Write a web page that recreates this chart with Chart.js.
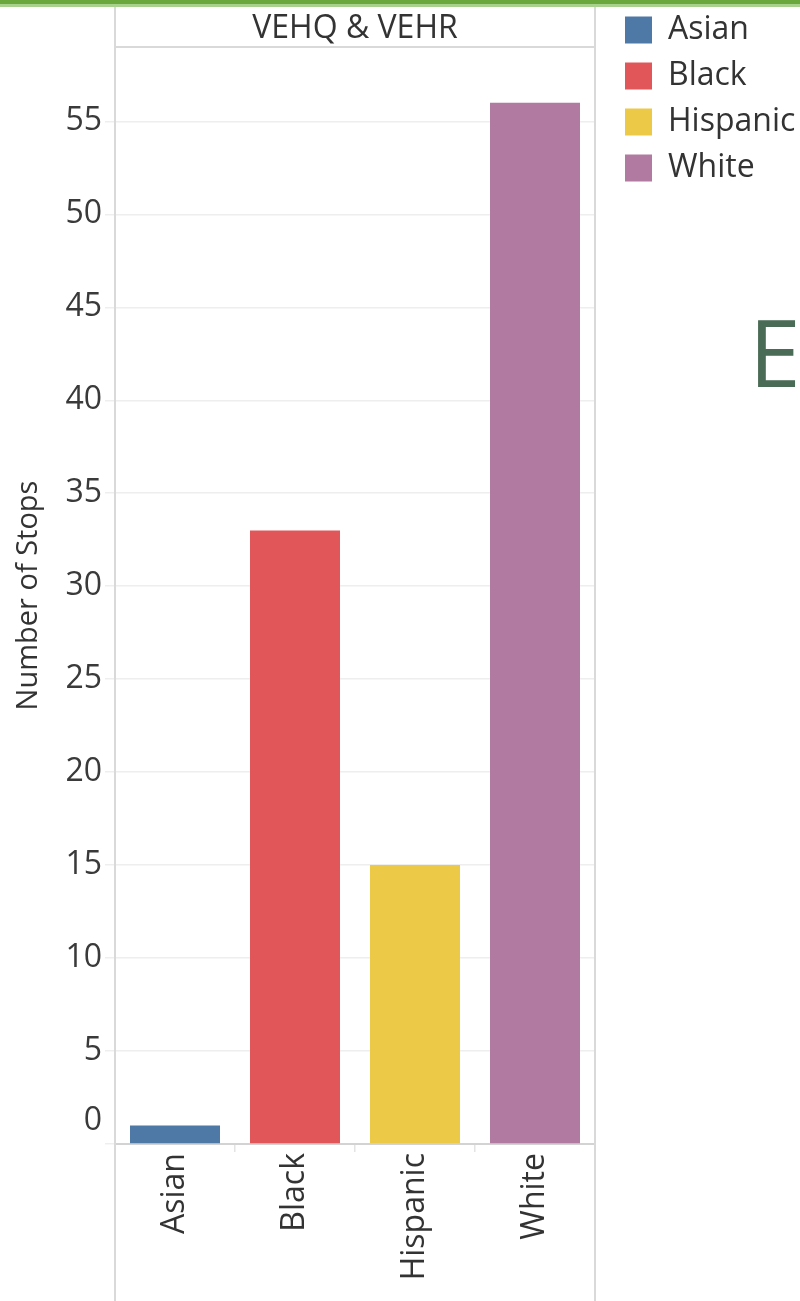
<!DOCTYPE html>
<html>
<head>
<meta charset="utf-8">
<script src="https://cdn.jsdelivr.net/npm/chart.js@4.4.1/dist/chart.umd.min.js"></script>
<style>
  html, body { margin: 0; padding: 0; background: #fff; }
  #wrap { position: relative; width: 800px; height: 1301px; overflow: hidden; }
  #chart { position: absolute; left: 0; top: 0; }
  .topline1 { position: absolute; left: 0; top: 0; width: 800px; height: 4px; background: #6aa83e; }
  .topline2 { position: absolute; left: 0; top: 4px; width: 800px; height: 3px; background: #a9d18e; }
  #bigE { position: absolute; left: 749px; top: 305px; font: 93px/1 "Open Sans"; color: #4a6b56; }
</style>
</head>
<body>
<div id="wrap">
  <canvas id="chart" width="800" height="1301"></canvas>
  <div class="topline1"></div>
  <div class="topline2"></div>
  <div id="bigE">E</div>
</div>
<script>
// data
const panelTitle = 'VEHQ & VEHR';
const categories = ['Asian', 'Black', 'Hispanic', 'White'];
const stops = [1, 33, 15, 56];
const colors = ['#4e79a7', '#e15759', '#edc948', '#b07aa1'];
const yTicks = [0, 5, 10, 15, 20, 25, 30, 35, 40, 45, 50, 55];

const FONT = '"Open Sans", "Noto Sans", sans-serif';
const legendFontSize = 32;
const legendPad = 14;
const legendBox = 27;

// legend width is padding + box + half font + widest text + 10 (chart.js fit)
const measure = document.createElement('canvas').getContext('2d');
measure.font = legendFontSize + 'px ' + FONT;
const widest = Math.max(...categories.map(c => measure.measureText(c).width));
const legendWidth = legendPad + legendBox + legendFontSize / 2 + widest + 10;
const legendLeft = 611;
const gapRight = 16;

// panel borders like the tableau pane
const panelLines = {
    id: 'panelLines',
    afterDraw(chart) {
        const { ctx, chartArea } = chart;
        ctx.save();
        ctx.strokeStyle = '#d9d9d9';
        ctx.lineWidth = 2;
        ctx.beginPath();
        ctx.moveTo(chartArea.left, 7);
        ctx.lineTo(chartArea.left, chart.height);
        ctx.moveTo(chartArea.right, 7);
        ctx.lineTo(chartArea.right, chart.height);
        ctx.moveTo(chartArea.left, chartArea.top);
        ctx.lineTo(chartArea.right, chartArea.top);
        ctx.stroke();
        ctx.restore();
    }
};

const datasets = categories.map((c, i) => ({
    label: c,
    data: categories.map((_, j) => (j === i ? stops[i] : null)),
    backgroundColor: colors[i],
    borderWidth: 0,
    barPercentage: 0.75,
    categoryPercentage: 1,
    grouped: false
}));

new Chart(document.getElementById('chart'), {
    type: 'bar',
    data: { labels: categories, datasets: datasets },
    options: {
        responsive: false,
        animation: false,
        layout: { padding: { top: 0, left: 0, bottom: 0, right: 800 - legendLeft - legendWidth } },
        plugins: {
            tooltip: { enabled: false },
            title: {
                display: true,
                text: panelTitle,
                fullSize: false,
                color: '#333',
                font: { family: FONT, size: 32, weight: 'normal', lineHeight: 1.1 },
                padding: { top: 11.4, bottom: 0.4 }
            },
            legend: {
                position: 'right',
                align: 'start',
                maxWidth: 400,
                labels: {
                    boxWidth: legendBox,
                    boxHeight: legendBox,
                    padding: legendPad,
                    color: '#333',
                    font: { family: FONT, size: legendFontSize }
                }
            }
        },
        scales: {
            x: {
                type: 'category',
                afterFit: s => { s.height = 157; },
                grid: { offset: true, drawOnChartArea: false, tickLength: 8, color: '#e3e3e3', lineWidth: 1.5 },
                border: { color: '#d3d3d3', width: 2 },
                ticks: {
                    minRotation: 90,
                    maxRotation: 90,
                    autoSkip: false,
                    padding: 1,
                    color: '#333',
                    font: { family: FONT, size: 32 }
                }
            },
            y: {
                min: 0,
                max: 59,
                afterFit: s => { s.width = 115; },
                afterBuildTicks: s => { s.ticks = yTicks.map(v => ({ value: v })); },
                grid: { color: '#eeeeee', lineWidth: 1.5, tickLength: 10 },
                border: { display: false },
                ticks: {
                    autoSkip: false,
                    padding: 3,
                    color: '#3a3a3a',
                    font: { family: FONT, size: 32, lineHeight: '46px' },
                    callback: v => (v === 0 ? ['0', ''] : String(v))
                },
                title: {
                    display: true,
                    text: 'Number of Stops',
                    color: '#333',
                    font: { family: FONT, size: 29 },
                    padding: { top: 11.6, bottom: 0 }
                }
            },
            gap: {
                type: 'linear',
                position: 'right',
                display: true,
                afterFit: s => { s.width = gapRight; },
                grid: { display: false },
                ticks: { display: false },
                border: { display: false }
            }
        }
    },
    plugins: [panelLines]
});
</script>
</body>
</html>
